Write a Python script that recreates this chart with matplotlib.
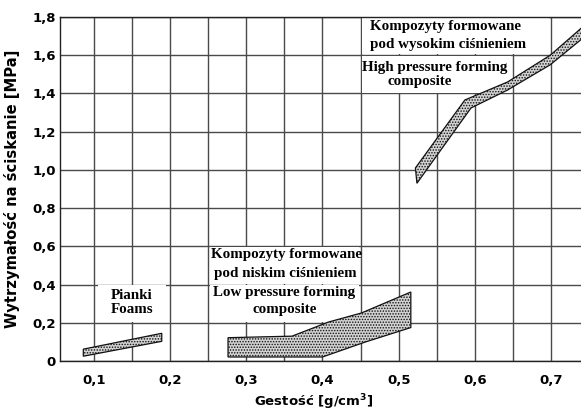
import numpy as np
import matplotlib
matplotlib.use("Agg")
import matplotlib.pyplot as plt
from matplotlib.patches import Rectangle

# ---- data ----
x_ticks = [0.1, 0.2, 0.3, 0.4, 0.5, 0.6, 0.7]
x_tick_labels = ["0,1", "0,2", "0,3", "0,4", "0,5", "0,6", "0,7"]
y_ticks = [0, 0.2, 0.4, 0.6, 0.8, 1.0, 1.2, 1.4, 1.6, 1.8]
y_tick_labels = ["0", "0,2", "0,4", "0,6", "0,8", "1,0", "1,2", "1,4", "1,6", "1,8"]

# Foams band
foam_x = [0.086, 0.189]
foam_lo = [0.025, 0.103]
foam_hi = [0.062, 0.145]

# Low pressure composite band
low_x_hi = [0.276, 0.36, 0.408, 0.451, 0.516]
low_hi = [0.122, 0.13, 0.204, 0.251, 0.361]
low_x_lo = [0.276, 0.40, 0.456, 0.516]
low_lo = [0.021, 0.021, 0.099, 0.175]

# High pressure composite band
high_x_hi = [0.522, 0.587, 0.643, 0.699, 0.745]
high_hi = [1.01, 1.366, 1.46, 1.60, 1.76]
high_x_lo = [0.524, 0.595, 0.643, 0.699, 0.745]
high_lo = [0.93, 1.324, 1.418, 1.55, 1.70]

plt.rcParams['hatch.linewidth'] = 0.7

fig = plt.figure(figsize=(5.81, 4.12), dpi=100)
ax = fig.add_axes([60/581, 51/412, 1 - 60/581, 344/412])
ax.set_xlim(0.0554, 0.7394)
ax.set_ylim(0, 1.8)

grid_c = '#4a4a4a'
ax.set_xticks(x_ticks)
ax.set_xticklabels(x_tick_labels)
ax.set_xticks(np.arange(0.1, 0.75, 0.05), minor=True)
ax.set_yticks(y_ticks)
ax.set_yticklabels(y_tick_labels)
ax.grid(True, which='both', axis='x', color=grid_c, lw=1.0, zorder=0)
ax.grid(True, which='major', axis='y', color=grid_c, lw=1.0, zorder=0)
ax.set_axisbelow(True)
ax.tick_params(which='both', length=0)
ax.tick_params(axis='x', pad=9)
ax.tick_params(axis='y', pad=3)
for lab in ax.get_xticklabels() + ax.get_yticklabels():
    lab.set_fontweight('bold')
    lab.set_fontsize(9.5)
    lab.set_family('DejaVu Sans')
ax.spines['right'].set_visible(False)
for s in ['left', 'bottom', 'top']:
    ax.spines[s].set_color('#222222')
    ax.spines[s].set_linewidth(1.0)

ax.set_xlabel(r"Gestość [g/cm$^{\mathbf{3}}$]", fontsize=9.5, fontweight='bold')
ax.xaxis.set_label_coords(0.487, -0.092)
ax.set_ylabel("Wytrzymałość na ściskanie [MPa]", fontsize=10.6, fontweight='bold')
ax.yaxis.set_label_coords(-0.076, 0.5)

# white cells behind labels
cells = [(0.105, 0.204, 0.09, 0.192),
         (0.252, 0.404, 0.196, 0.192), (0.252, 0.204, 0.196, 0.192),
         (0.452, 1.604, 0.246, 0.192), (0.452, 1.404, 0.196, 0.192)]
for (cx, cy, cw, ch) in cells:
    ax.add_patch(Rectangle((cx, cy), cw, ch, facecolor='white', edgecolor='none', zorder=1))

def band(xh, yh, xl, yl):
    xs = list(xh) + list(xl)[::-1]
    ys = list(yh) + list(yl)[::-1]
    ax.fill(xs, ys, facecolor='#d2d2d2', edgecolor='#111111', hatch='......',
            lw=0.9, zorder=3)

band(foam_x, foam_hi, foam_x, foam_lo)
band(low_x_hi, low_hi, low_x_lo, low_lo)
band(high_x_hi, high_hi, high_x_lo, high_lo)

tk = dict(family='Liberation Serif', fontweight='bold', fontsize=10.8,
          ha='center', va='center', zorder=4, color='black')
ax.text(0.1496, 0.345, "Pianki", **tk)
ax.text(0.1496, 0.272, "Foams", **tk)
ax.text(0.3526, 0.555, "Kompozyty formowane", **tk)
ax.text(0.351, 0.46, "pod niskim ciśnieniem", **tk)
ax.text(0.350, 0.356, "Low pressure forming", **tk)
ax.text(0.351, 0.267, "composite", **tk)
ax.text(0.561, 1.748, "Kompozyty formowane", **tk)
ax.text(0.565, 1.654, "pod wysokim ciśnieniem", **tk)
ax.text(0.547, 1.538, "High pressure forming", **tk)
ax.text(0.527, 1.46, "composite", **tk)

fig.savefig("out.png", dpi=100)
